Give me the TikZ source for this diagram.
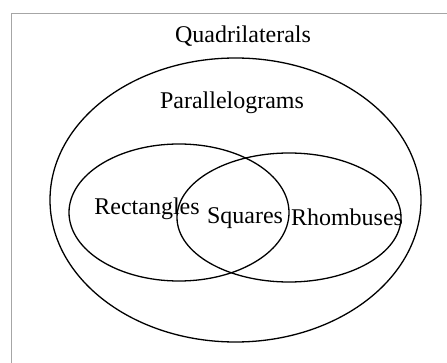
\documentclass[tikz,border=0pt]{standalone}
\usepackage{fontspec}
\setmainfont{Liberation Serif}
\usepackage{tikz}
\usetikzlibrary{positioning}

\begin{document}
\begin{tikzpicture}[x=1pt,y=-1pt,
  every node/.style={align=center,font=\fontsize{24}{28}\selectfont,inner sep=1pt},
  setline/.style={line width=1.3pt,color=black},
  frameline/.style={line width=0.9pt,color=gray!70}]
  \useasboundingbox (0,0) rectangle (447,363);
  % frame (cut at right and bottom)
  \draw[frameline] (11,363) -- (11,13) -- (447,13);
  % sets
  \draw[setline] (235.5,200) ellipse [x radius=185.5,y radius=142];
  \draw[setline] (179,212.5) ellipse [x radius=110,y radius=68.5];
  \draw[setline] (289,217.5) ellipse [x radius=112,y radius=64.5];
  % labels
  \node (quad) at (243,36) {Quadrilaterals};
  \node (para) at (232,103) {Parallelograms};
  \node (rect) at (147,209) {Rectangles};
  \node (sq) at (245,218) {Squares};
  \node (rhomb) at (347,217) {Rhombuses};
\end{tikzpicture}
\end{document}
